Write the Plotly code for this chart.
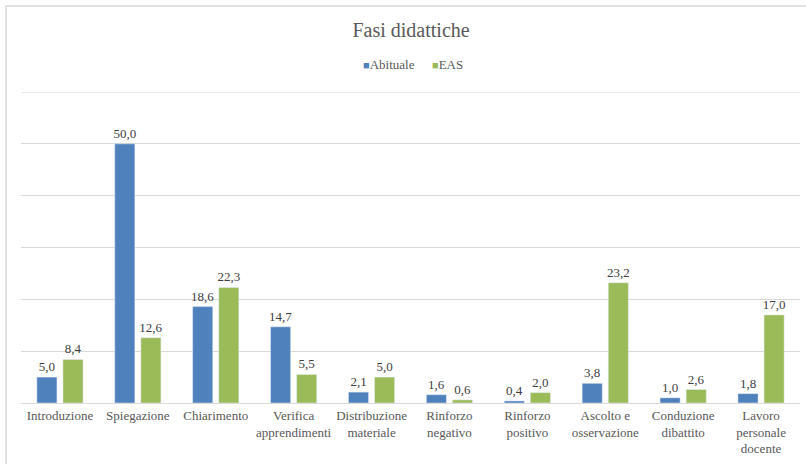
import plotly.graph_objects as go

categories = [
    "Introduzione", "Spiegazione", "Chiarimento", "Verifica<br>apprendimenti",
    "Distribuzione<br>materiale", "Rinforzo<br>negativo", "Rinforzo<br>positivo",
    "Ascolto e<br>osservazione", "Conduzione<br>dibattito", "Lavoro<br>personale<br>docente",
]
abituale = [5.0, 50.0, 18.6, 14.7, 2.1, 1.6, 0.4, 3.8, 1.0, 1.8]
eas = [8.4, 12.6, 22.3, 5.5, 5.0, 0.6, 2.0, 23.2, 2.6, 17.0]
y_max = 60

FONT = "Liberation Serif, Times New Roman, serif"
TEXT_COLOR = "#595959"
GRID = "#D9D9D9"
BLUE = "#4F81BD"
GREEN = "#9BBB59"


def fmt(values):
    return [f"{v:.1f}".replace(".", ",") for v in values]


fig = go.Figure()
for name, vals, col in (("Abituale", abituale, BLUE), ("EAS", eas, GREEN)):
    fig.add_trace(go.Bar(
        name=name, x=categories, y=vals, marker_color=col,
        text=fmt(vals), textposition="outside", cliponaxis=False,
        textfont=dict(family=FONT, size=13, color="#404040"),
        showlegend=False,
    ))

fig.update_layout(
    width=806, height=464,
    margin=dict(l=21, r=6, t=92, b=61),
    paper_bgcolor="white", plot_bgcolor="white",
    font=dict(family=FONT, color=TEXT_COLOR, size=13),
    barmode="group", bargap=0.33, bargroupgap=0.23,
    title=dict(text="Fasi didattiche", x=0.51, xanchor="center",
               y=1 - 30 / 464, yanchor="middle",
               font=dict(family=FONT, size=20, color=TEXT_COLOR)),
    uniformtext=dict(mode="show", minsize=13),
)
fig.update_xaxes(showgrid=False, showline=True, linecolor=GRID, linewidth=1,
                 ticks="", tickfont=dict(family=FONT, size=13, color=TEXT_COLOR))
fig.update_yaxes(range=[0, y_max], dtick=10, showticklabels=False, showgrid=True,
                 gridcolor=GRID, gridwidth=1, zeroline=False, showline=False)

# top gridline sits on the edge of the plot area, so draw it explicitly
fig.add_shape(type="line", xref="paper", yref="y", x0=0, x1=1, y0=y_max, y1=y_max,
              line=dict(color=GRID, width=1), layer="below")

# compact legend: small coloured squares beside each series name
legend_items = [("Abituale", BLUE, 0.436), ("EAS", GREEN, 0.525)]
for name, col, xpos in legend_items:
    fig.add_annotation(
        xref="paper", yref="paper", x=xpos, y=1.09, xanchor="left", yanchor="middle",
        text=f"<span style='color:{col};font-size:11px'>■</span>{name}",
        showarrow=False, font=dict(family=FONT, size=13, color=TEXT_COLOR),
    )

# light frame round the chart area
fig.add_shape(type="rect", xref="paper", yref="paper",
              x0=-15 / 779, x1=1.05, y0=-0.3, y1=(403 - 6) / 311,
              line=dict(color=GRID, width=1.5), fillcolor="rgba(0,0,0,0)", layer="below")

fig.write_html("out.html")
